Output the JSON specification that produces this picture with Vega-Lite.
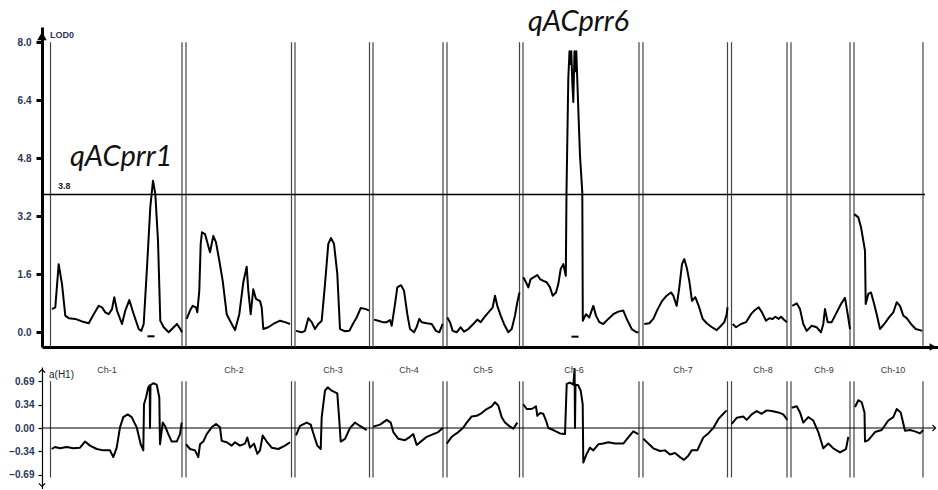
{
  "$schema": "https://vega.github.io/schema/vega-lite/v6.json",
  "padding": {"left": 8, "top": 7, "right": 0, "bottom": 0},
  "config": {"view": {"stroke": null}, "font": "Liberation Sans"},
  "spacing": 20,
  "bounds": "flush",
  "datasets": {
    "lod": [
      {"chr":1,"pos":52,"lod":0.64},{"chr":1,"pos":55.3,"lod":0.69},{"chr":1,"pos":58.7,"lod":1.88},{"chr":1,"pos":62,"lod":1.33},{"chr":1,"pos":65.3,"lod":0.46},{"chr":1,"pos":68.7,"lod":0.39},{"chr":1,"pos":75.3,"lod":0.37},{"chr":1,"pos":82,"lod":0.30},{"chr":1,"pos":88.7,"lod":0.25},{"chr":1,"pos":93.7,"lod":0.50},{"chr":1,"pos":98.7,"lod":0.73},{"chr":1,"pos":102,"lod":0.69},{"chr":1,"pos":105.3,"lod":0.55},{"chr":1,"pos":108.7,"lod":0.50},{"chr":1,"pos":112,"lod":0.64},{"chr":1,"pos":114.3,"lod":0.97},{"chr":1,"pos":117,"lod":0.60},{"chr":1,"pos":122,"lod":0.23},{"chr":1,"pos":125.3,"lod":0.60},{"chr":1,"pos":129.3,"lod":0.89},{"chr":1,"pos":133.7,"lod":0.50},{"chr":1,"pos":138.7,"lod":0.09},{"chr":1,"pos":141.3,"lod":0.04},{"chr":1,"pos":143.7,"lod":0.23},{"chr":1,"pos":147,"lod":1.79},{"chr":1,"pos":150.3,"lod":3.45},{"chr":1,"pos":153,"lod":4.18},{"chr":1,"pos":155.3,"lod":3.82},{"chr":1,"pos":158,"lod":2.53},{"chr":1,"pos":160.3,"lod":0.32},{"chr":1,"pos":163.7,"lod":0.14},{"chr":1,"pos":168.7,"lod":0.0},{"chr":1,"pos":173.7,"lod":0.14},{"chr":1,"pos":177,"lod":0.23},{"chr":1,"pos":180.3,"lod":0.09},{"chr":1,"pos":182,"lod":0.0},
      {"chr":2,"pos":186.7,"lod":0.37},{"chr":2,"pos":190,"lod":0.60},{"chr":2,"pos":192.7,"lod":0.73},{"chr":2,"pos":196,"lod":0.69},{"chr":2,"pos":197.3,"lod":0.55},{"chr":2,"pos":199.3,"lod":1.15},{"chr":2,"pos":200.7,"lod":2.44},{"chr":2,"pos":202,"lod":2.76},{"chr":2,"pos":205,"lod":2.71},{"chr":2,"pos":210,"lod":2.21},{"chr":2,"pos":213.3,"lod":2.66},{"chr":2,"pos":216,"lod":2.48},{"chr":2,"pos":219.3,"lod":1.98},{"chr":2,"pos":222.7,"lod":1.42},{"chr":2,"pos":226.7,"lod":0.50},{"chr":2,"pos":230,"lod":0.32},{"chr":2,"pos":235,"lod":0.06},{"chr":2,"pos":239.3,"lod":0.50},{"chr":2,"pos":243.3,"lod":1.38},{"chr":2,"pos":246.7,"lod":1.81},{"chr":2,"pos":248.3,"lod":1.15},{"chr":2,"pos":250.7,"lod":0.50},{"chr":2,"pos":253.3,"lod":1.19},{"chr":2,"pos":256,"lod":0.92},{"chr":2,"pos":260,"lod":0.86},{"chr":2,"pos":261.7,"lod":0.69},{"chr":2,"pos":263.3,"lod":0.09},{"chr":2,"pos":268.3,"lod":0.14},{"chr":2,"pos":273.3,"lod":0.23},{"chr":2,"pos":280,"lod":0.32},{"chr":2,"pos":285,"lod":0.28},{"chr":2,"pos":290,"lod":0.23},
      {"chr":3,"pos":296,"lod":0.04},{"chr":3,"pos":301.7,"lod":0.0},{"chr":3,"pos":305,"lod":0.04},{"chr":3,"pos":308.3,"lod":0.39},{"chr":3,"pos":311.7,"lod":0.28},{"chr":3,"pos":315,"lod":0.09},{"chr":3,"pos":318.3,"lod":0.23},{"chr":3,"pos":321.7,"lod":0.32},{"chr":3,"pos":325,"lod":1.33},{"chr":3,"pos":328.3,"lod":2.44},{"chr":3,"pos":331,"lod":2.60},{"chr":3,"pos":334,"lod":2.44},{"chr":3,"pos":337.3,"lod":1.61},{"chr":3,"pos":340,"lod":0.09},{"chr":3,"pos":345,"lod":0.03},{"chr":3,"pos":349.3,"lod":0.04},{"chr":3,"pos":353.3,"lod":0.25},{"chr":3,"pos":356.7,"lod":0.41},{"chr":3,"pos":360.7,"lod":0.67},{"chr":3,"pos":366,"lod":0.64},{"chr":3,"pos":369,"lod":0.60},
      {"chr":4,"pos":374,"lod":0.35},{"chr":4,"pos":378.3,"lod":0.32},{"chr":4,"pos":382.7,"lod":0.28},{"chr":4,"pos":386.7,"lod":0.28},{"chr":4,"pos":390,"lod":0.34},{"chr":4,"pos":391.7,"lod":0.18},{"chr":4,"pos":395,"lod":0.78},{"chr":4,"pos":397.3,"lod":1.24},{"chr":4,"pos":401,"lod":1.30},{"chr":4,"pos":404,"lod":1.15},{"chr":4,"pos":407.3,"lod":0.50},{"chr":4,"pos":410,"lod":0.09},{"chr":4,"pos":414,"lod":0.0},{"chr":4,"pos":416.7,"lod":0.15},{"chr":4,"pos":419.3,"lod":0.37},{"chr":4,"pos":421.7,"lod":0.28},{"chr":4,"pos":426.7,"lod":0.25},{"chr":4,"pos":431.7,"lod":0.23},{"chr":4,"pos":436,"lod":0.04},{"chr":4,"pos":439.3,"lod":0.0},{"chr":4,"pos":442.7,"lod":0.23},
      {"chr":5,"pos":447.3,"lod":0.41},{"chr":5,"pos":450,"lod":0.28},{"chr":5,"pos":452.7,"lod":0.04},{"chr":5,"pos":456.7,"lod":0.0},{"chr":5,"pos":460.7,"lod":0.14},{"chr":5,"pos":464,"lod":0.02},{"chr":5,"pos":468.3,"lod":0.09},{"chr":5,"pos":473.3,"lod":0.23},{"chr":5,"pos":477.3,"lod":0.35},{"chr":5,"pos":480.7,"lod":0.28},{"chr":5,"pos":485,"lod":0.44},{"chr":5,"pos":490,"lod":0.60},{"chr":5,"pos":492.7,"lod":0.69},{"chr":5,"pos":495,"lod":1.01},{"chr":5,"pos":497.3,"lod":0.73},{"chr":5,"pos":500.7,"lod":0.46},{"chr":5,"pos":504,"lod":0.23},{"chr":5,"pos":508.3,"lod":0.0},{"chr":5,"pos":511.7,"lod":0.09},{"chr":5,"pos":515,"lod":0.46},{"chr":5,"pos":517.3,"lod":0.83},{"chr":5,"pos":519.5,"lod":1.10},
      {"chr":6,"pos":523.3,"lod":1.52},{"chr":6,"pos":526,"lod":1.38},{"chr":6,"pos":528.3,"lod":1.24},{"chr":6,"pos":530.7,"lod":1.47},{"chr":6,"pos":534,"lod":1.52},{"chr":6,"pos":537.3,"lod":1.58},{"chr":6,"pos":540,"lod":1.47},{"chr":6,"pos":543.3,"lod":1.42},{"chr":6,"pos":546.7,"lod":1.38},{"chr":6,"pos":550,"lod":1.24},{"chr":6,"pos":552.7,"lod":1.01},{"chr":6,"pos":556,"lod":1.10},{"chr":6,"pos":558.3,"lod":1.33},{"chr":6,"pos":560.7,"lod":1.75},{"chr":6,"pos":563.3,"lod":1.88},{"chr":6,"pos":565.8,"lod":1.56},{"chr":6,"pos":566.5,"lod":3.86},{"chr":6,"pos":568.3,"lod":7.0},{"chr":6,"pos":569.5,"lod":7.75},{"chr":6,"pos":570.5,"lod":7.4},{"chr":6,"pos":571.3,"lod":7.75},{"chr":6,"pos":572.3,"lod":6.9},{"chr":6,"pos":573.3,"lod":6.35},{"chr":6,"pos":574.5,"lod":7.75},{"chr":6,"pos":575.5,"lod":7.2},{"chr":6,"pos":576.3,"lod":7.75},{"chr":6,"pos":577.5,"lod":6.8},{"chr":6,"pos":578.5,"lod":6.0},{"chr":6,"pos":580,"lod":4.87},{"chr":6,"pos":582.3,"lod":3.86},{"chr":6,"pos":582.8,"lod":0.32},{"chr":6,"pos":586,"lod":0.50},{"chr":6,"pos":589.3,"lod":0.41},{"chr":6,"pos":593.3,"lod":0.73},{"chr":6,"pos":596,"lod":0.46},{"chr":6,"pos":599.3,"lod":0.28},{"chr":6,"pos":603.3,"lod":0.23},{"chr":6,"pos":608.3,"lod":0.37},{"chr":6,"pos":613.3,"lod":0.50},{"chr":6,"pos":618.3,"lod":0.57},{"chr":6,"pos":623.3,"lod":0.60},{"chr":6,"pos":626.7,"lod":0.37},{"chr":6,"pos":631.7,"lod":0.09},{"chr":6,"pos":636.7,"lod":0.0},{"chr":6,"pos":638.5,"lod":0.0},
      {"chr":7,"pos":644.3,"lod":0.23},{"chr":7,"pos":649.3,"lod":0.25},{"chr":7,"pos":653.3,"lod":0.37},{"chr":7,"pos":657.7,"lod":0.64},{"chr":7,"pos":662,"lod":0.86},{"chr":7,"pos":666.7,"lod":1.01},{"chr":7,"pos":671,"lod":1.10},{"chr":7,"pos":673.3,"lod":1.01},{"chr":7,"pos":676.7,"lod":0.73},{"chr":7,"pos":679.3,"lod":1.24},{"chr":7,"pos":682,"lod":1.88},{"chr":7,"pos":684.3,"lod":2.02},{"chr":7,"pos":686.7,"lod":1.79},{"chr":7,"pos":689.3,"lod":1.42},{"chr":7,"pos":692,"lod":0.87},{"chr":7,"pos":695.3,"lod":0.97},{"chr":7,"pos":698.7,"lod":0.73},{"chr":7,"pos":702.7,"lod":0.37},{"chr":7,"pos":706.7,"lod":0.25},{"chr":7,"pos":712,"lod":0.14},{"chr":7,"pos":716.7,"lod":0.06},{"chr":7,"pos":721,"lod":0.18},{"chr":7,"pos":724.3,"lod":0.28},{"chr":7,"pos":726.7,"lod":0.50},{"chr":7,"pos":727.5,"lod":0.69},
      {"chr":8,"pos":732.7,"lod":0.23},{"chr":8,"pos":736,"lod":0.14},{"chr":8,"pos":741,"lod":0.23},{"chr":8,"pos":746,"lod":0.28},{"chr":8,"pos":751,"lod":0.50},{"chr":8,"pos":754.3,"lod":0.60},{"chr":8,"pos":758.7,"lod":0.69},{"chr":8,"pos":762,"lod":0.55},{"chr":8,"pos":766,"lod":0.32},{"chr":8,"pos":769.3,"lod":0.39},{"chr":8,"pos":772.7,"lod":0.37},{"chr":8,"pos":775.3,"lod":0.43},{"chr":8,"pos":778.7,"lod":0.37},{"chr":8,"pos":781,"lod":0.43},{"chr":8,"pos":784.3,"lod":0.34},{"chr":8,"pos":787,"lod":0.28},
      {"chr":9,"pos":792.3,"lod":0.73},{"chr":9,"pos":796.7,"lod":0.80},{"chr":9,"pos":800,"lod":0.64},{"chr":9,"pos":803.3,"lod":0.23},{"chr":9,"pos":806.7,"lod":0.04},{"chr":9,"pos":811.7,"lod":0.18},{"chr":9,"pos":816.7,"lod":0.14},{"chr":9,"pos":821,"lod":0.0},{"chr":9,"pos":823.3,"lod":0.23},{"chr":9,"pos":825,"lod":0.64},{"chr":9,"pos":827.7,"lod":0.28},{"chr":9,"pos":831.7,"lod":0.28},{"chr":9,"pos":836.7,"lod":0.55},{"chr":9,"pos":841,"lod":0.78},{"chr":9,"pos":845,"lod":0.95},{"chr":9,"pos":847.7,"lod":0.50},{"chr":9,"pos":850,"lod":0.09},
      {"chr":10,"pos":854.3,"lod":3.26},{"chr":10,"pos":858.3,"lod":3.17},{"chr":10,"pos":861,"lod":2.90},{"chr":10,"pos":863.3,"lod":2.53},{"chr":10,"pos":865,"lod":2.25},{"chr":10,"pos":865.7,"lod":0.78},{"chr":10,"pos":868.3,"lod":1.06},{"chr":10,"pos":871,"lod":1.10},{"chr":10,"pos":873.3,"lod":0.87},{"chr":10,"pos":876.7,"lod":0.50},{"chr":10,"pos":880,"lod":0.09},{"chr":10,"pos":884.3,"lod":0.23},{"chr":10,"pos":889,"lod":0.41},{"chr":10,"pos":893.3,"lod":0.55},{"chr":10,"pos":896.7,"lod":0.83},{"chr":10,"pos":900,"lod":0.73},{"chr":10,"pos":903.3,"lod":0.46},{"chr":10,"pos":906.7,"lod":0.39},{"chr":10,"pos":911,"lod":0.23},{"chr":10,"pos":915.7,"lod":0.09},{"chr":10,"pos":920,"lod":0.06},{"chr":10,"pos":922.3,"lod":0.04}
    ],
    "add": [
      {"chr":1,"pos":51.7,"a":-0.31},{"chr":1,"pos":55,"a":-0.28},{"chr":1,"pos":60,"a":-0.30},{"chr":1,"pos":66.7,"a":-0.28},{"chr":1,"pos":73.3,"a":-0.30},{"chr":1,"pos":80,"a":-0.29},{"chr":1,"pos":85,"a":-0.20},{"chr":1,"pos":90,"a":-0.26},{"chr":1,"pos":96.7,"a":-0.31},{"chr":1,"pos":103.3,"a":-0.33},{"chr":1,"pos":110,"a":-0.33},{"chr":1,"pos":113.3,"a":-0.43},{"chr":1,"pos":116.7,"a":-0.29},{"chr":1,"pos":120,"a":0.01},{"chr":1,"pos":123.3,"a":0.16},{"chr":1,"pos":127.7,"a":0.20},{"chr":1,"pos":131.7,"a":0.16},{"chr":1,"pos":136.7,"a":0.01},{"chr":1,"pos":140.7,"a":-0.24},{"chr":1,"pos":143.3,"a":-0.33},{"chr":1,"pos":144,"a":0.35},{"chr":1,"pos":146,"a":0.45},{"chr":1,"pos":148.3,"a":0.60},{"chr":1,"pos":149.7,"a":0.63},{"chr":1,"pos":150,"a":0.0},{"chr":1,"pos":150.5,"a":0.63},{"chr":1,"pos":153.3,"a":0.66},{"chr":1,"pos":156.7,"a":0.64},{"chr":1,"pos":159.3,"a":0.45},{"chr":1,"pos":160,"a":-0.24},{"chr":1,"pos":162.7,"a":0.08},{"chr":1,"pos":165,"a":0.03},{"chr":1,"pos":168.3,"a":-0.09},{"chr":1,"pos":171.7,"a":-0.20},{"chr":1,"pos":176.7,"a":-0.20},{"chr":1,"pos":180,"a":-0.09},{"chr":1,"pos":181.7,"a":0.08},
      {"chr":2,"pos":186,"a":-0.24},{"chr":2,"pos":190,"a":-0.31},{"chr":2,"pos":195,"a":-0.33},{"chr":2,"pos":198.3,"a":-0.43},{"chr":2,"pos":200,"a":-0.24},{"chr":2,"pos":203.3,"a":-0.20},{"chr":2,"pos":206.7,"a":-0.09},{"chr":2,"pos":211.7,"a":0.01},{"chr":2,"pos":216,"a":0.06},{"chr":2,"pos":220,"a":0.01},{"chr":2,"pos":221.7,"a":-0.19},{"chr":2,"pos":226.7,"a":-0.21},{"chr":2,"pos":231.7,"a":-0.26},{"chr":2,"pos":235,"a":-0.21},{"chr":2,"pos":240,"a":-0.26},{"chr":2,"pos":245,"a":-0.23},{"chr":2,"pos":247.3,"a":-0.14},{"chr":2,"pos":250,"a":-0.29},{"chr":2,"pos":254,"a":-0.23},{"chr":2,"pos":257.3,"a":-0.38},{"chr":2,"pos":260,"a":-0.33},{"chr":2,"pos":262.7,"a":-0.11},{"chr":2,"pos":266.7,"a":-0.20},{"chr":2,"pos":271.7,"a":-0.29},{"chr":2,"pos":278.3,"a":-0.31},{"chr":2,"pos":285,"a":-0.26},{"chr":2,"pos":290,"a":-0.21},
      {"chr":3,"pos":296,"a":-0.11},{"chr":3,"pos":300,"a":0.03},{"chr":3,"pos":306.7,"a":0.08},{"chr":3,"pos":310.7,"a":0.05},{"chr":3,"pos":314,"a":-0.11},{"chr":3,"pos":317.3,"a":-0.26},{"chr":3,"pos":320.7,"a":-0.31},{"chr":3,"pos":321.7,"a":0.16},{"chr":3,"pos":325,"a":0.55},{"chr":3,"pos":327.7,"a":0.60},{"chr":3,"pos":331.7,"a":0.55},{"chr":3,"pos":337.3,"a":0.51},{"chr":3,"pos":339.3,"a":0.11},{"chr":3,"pos":340.7,"a":-0.20},{"chr":3,"pos":345,"a":-0.16},{"chr":3,"pos":350,"a":0.0},{"chr":3,"pos":355,"a":0.08},{"chr":3,"pos":360,"a":0.03},{"chr":3,"pos":366.7,"a":-0.03},
      {"chr":4,"pos":373.3,"a":0.02},{"chr":4,"pos":380,"a":0.05},{"chr":4,"pos":386.7,"a":0.12},{"chr":4,"pos":390.7,"a":0.08},{"chr":4,"pos":393.3,"a":-0.06},{"chr":4,"pos":398.3,"a":-0.16},{"chr":4,"pos":405,"a":-0.18},{"chr":4,"pos":410,"a":-0.13},{"chr":4,"pos":413.3,"a":-0.09},{"chr":4,"pos":416.7,"a":-0.25},{"chr":4,"pos":421.7,"a":-0.19},{"chr":4,"pos":426.7,"a":-0.13},{"chr":4,"pos":433.3,"a":-0.09},{"chr":4,"pos":438.3,"a":-0.06},{"chr":4,"pos":442.7,"a":0.0},
      {"chr":5,"pos":446.7,"a":-0.23},{"chr":5,"pos":451.7,"a":-0.13},{"chr":5,"pos":458.3,"a":-0.06},{"chr":5,"pos":463,"a":0.0},{"chr":5,"pos":466.7,"a":0.08},{"chr":5,"pos":471.7,"a":0.17},{"chr":5,"pos":476.7,"a":0.18},{"chr":5,"pos":481.7,"a":0.22},{"chr":5,"pos":486.7,"a":0.28},{"chr":5,"pos":491.7,"a":0.32},{"chr":5,"pos":495,"a":0.38},{"chr":5,"pos":498.3,"a":0.33},{"chr":5,"pos":501.7,"a":0.16},{"chr":5,"pos":505,"a":0.08},{"chr":5,"pos":510,"a":0.02},{"chr":5,"pos":513.3,"a":-0.01},{"chr":5,"pos":517.3,"a":0.08},
      {"chr":6,"pos":523.3,"a":0.35},{"chr":6,"pos":526.7,"a":0.28},{"chr":6,"pos":531.7,"a":0.28},{"chr":6,"pos":536,"a":0.32},{"chr":6,"pos":537.3,"a":0.18},{"chr":6,"pos":540,"a":0.22},{"chr":6,"pos":543.3,"a":0.21},{"chr":6,"pos":546,"a":0.11},{"chr":6,"pos":548.3,"a":0.0},{"chr":6,"pos":553.3,"a":-0.03},{"chr":6,"pos":560,"a":-0.08},{"chr":6,"pos":565,"a":-0.09},{"chr":6,"pos":566.7,"a":0.65},{"chr":6,"pos":570,"a":0.67},{"chr":6,"pos":573.3,"a":0.64},{"chr":6,"pos":574.6,"a":0.87},{"chr":6,"pos":575,"a":0.0},{"chr":6,"pos":575.5,"a":0.64},{"chr":6,"pos":578.3,"a":0.63},{"chr":6,"pos":580.7,"a":0.55},{"chr":6,"pos":582.7,"a":0.35},{"chr":6,"pos":583.3,"a":-0.51},{"chr":6,"pos":586.7,"a":-0.38},{"chr":6,"pos":590,"a":-0.29},{"chr":6,"pos":593.3,"a":-0.33},{"chr":6,"pos":598.3,"a":-0.24},{"chr":6,"pos":603.3,"a":-0.23},{"chr":6,"pos":608.3,"a":-0.21},{"chr":6,"pos":615,"a":-0.23},{"chr":6,"pos":623.3,"a":-0.23},{"chr":6,"pos":628.3,"a":-0.14},{"chr":6,"pos":633.3,"a":-0.05},{"chr":6,"pos":638.3,"a":-0.09},
      {"chr":7,"pos":643.3,"a":-0.16},{"chr":7,"pos":648.3,"a":-0.23},{"chr":7,"pos":653.3,"a":-0.30},{"chr":7,"pos":660,"a":-0.34},{"chr":7,"pos":665,"a":-0.33},{"chr":7,"pos":670,"a":-0.39},{"chr":7,"pos":675,"a":-0.37},{"chr":7,"pos":680,"a":-0.43},{"chr":7,"pos":684,"a":-0.47},{"chr":7,"pos":688.3,"a":-0.41},{"chr":7,"pos":691.7,"a":-0.33},{"chr":7,"pos":697.3,"a":-0.33},{"chr":7,"pos":703.3,"a":-0.14},{"chr":7,"pos":708.3,"a":-0.08},{"chr":7,"pos":713.3,"a":0.0},{"chr":7,"pos":718.3,"a":0.13},{"chr":7,"pos":723.3,"a":0.21},{"chr":7,"pos":726.7,"a":0.26},
      {"chr":8,"pos":731.7,"a":0.06},{"chr":8,"pos":736.7,"a":0.15},{"chr":8,"pos":743.3,"a":0.17},{"chr":8,"pos":746.7,"a":0.12},{"chr":8,"pos":751.7,"a":0.20},{"chr":8,"pos":756.7,"a":0.25},{"chr":8,"pos":761.7,"a":0.21},{"chr":8,"pos":766.7,"a":0.26},{"chr":8,"pos":771.7,"a":0.25},{"chr":8,"pos":778.3,"a":0.23},{"chr":8,"pos":783.3,"a":0.20},{"chr":8,"pos":787.3,"a":0.12},
      {"chr":9,"pos":791.7,"a":0.30},{"chr":9,"pos":796.7,"a":0.32},{"chr":9,"pos":800,"a":0.23},{"chr":9,"pos":803.3,"a":0.08},{"chr":9,"pos":808.3,"a":0.16},{"chr":9,"pos":813.3,"a":0.11},{"chr":9,"pos":818.3,"a":-0.06},{"chr":9,"pos":823.3,"a":-0.30},{"chr":9,"pos":828.3,"a":-0.23},{"chr":9,"pos":833.3,"a":-0.30},{"chr":9,"pos":840,"a":-0.36},{"chr":9,"pos":846,"a":-0.31},{"chr":9,"pos":848.3,"a":-0.13},
      {"chr":10,"pos":855,"a":0.31},{"chr":10,"pos":858.3,"a":0.41},{"chr":10,"pos":861.7,"a":0.38},{"chr":10,"pos":864.5,"a":0.23},{"chr":10,"pos":865,"a":-0.20},{"chr":10,"pos":868.3,"a":-0.18},{"chr":10,"pos":875,"a":-0.06},{"chr":10,"pos":881.7,"a":-0.03},{"chr":10,"pos":888.3,"a":0.11},{"chr":10,"pos":893.3,"a":0.16},{"chr":10,"pos":896.7,"a":0.28},{"chr":10,"pos":900.7,"a":0.23},{"chr":10,"pos":905,"a":-0.04},{"chr":10,"pos":910,"a":-0.03},{"chr":10,"pos":915,"a":-0.05},{"chr":10,"pos":920,"a":-0.08},{"chr":10,"pos":923.3,"a":-0.03}
    ],
    "bounds": [
      {"pos":50.5},{"pos":182},{"pos":186},{"pos":291.5},{"pos":295},{"pos":369.5},{"pos":373},{"pos":443},{"pos":447},{"pos":519.5},{"pos":523},{"pos":639},{"pos":643},{"pos":727.5},{"pos":731.5},{"pos":787},{"pos":791},{"pos":850},{"pos":854},{"pos":923}
    ],
    "chrlabels": [
      {"label":"Ch-1","pos":107},{"label":"Ch-2","pos":234},{"label":"Ch-3","pos":333},{"label":"Ch-4","pos":409},{"label":"Ch-5","pos":483},{"label":"Ch-6","pos":574},{"label":"Ch-7","pos":683},{"label":"Ch-8","pos":763},{"label":"Ch-9","pos":824},{"label":"Ch-10","pos":893}
    ],
    "qtl": [
      {"label":"qACprr1","pos":70,"lod":4.6},{"label":"qACprr6","pos":528,"lod":8.32}
    ],
    "markers": [
      {"pos":151,"lod":-0.11},{"pos":575,"lod":-0.12}
    ],
    "one": [{}]
  },
  "vconcat": [
    {
      "width": 896,
      "height": 320,
      "layer": [
        {
          "data": {"name": "bounds"},
          "mark": {"type": "rule", "color": "#444444", "strokeWidth": 1.2},
          "encoding": {
            "x": {"field": "pos", "type": "quantitative", "scale": {"domain": [42, 938], "nice": false, "zero": false},
                  "axis": {"domainColor": "black", "domainWidth": 3, "ticks": false, "labels": false, "grid": false, "title": null}},
            "y": {"datum": 8.0, "type": "quantitative", "scale": {"domain": [-0.405, 8.42], "nice": false, "zero": false},
                  "axis": {"values": [0, 1.6, 3.2, 4.8, 6.4, 8.0], "tickCount": 20, "format": ".1f", "domainColor": "black", "domainWidth": 3,
                           "tickColor": "black", "tickWidth": 3, "tickSize": 6, "labelFont": "Liberation Sans", "labelFontSize": 10,
                           "labelFontWeight": "bold", "labelColor": "#2b3656", "labelPadding": 5, "labelOverlap": false, "grid": false, "title": null}},
            "y2": {"datum": -0.405}
          }
        },
        {
          "data": {"name": "one"},
          "mark": {"type": "rule", "color": "black", "strokeWidth": 1.5},
          "encoding": {"x": {"datum": 42, "type": "quantitative", "axis": {"title": null}}, "x2": {"datum": 925}, "y": {"datum": 3.8, "type": "quantitative", "axis": {"title": null}}}
        },
        {
          "data": {"name": "lod"},
          "mark": {"type": "line", "color": "black", "strokeWidth": 2, "strokeJoin": "round"},
          "encoding": {
            "x": {"field": "pos", "type": "quantitative", "axis": {"title": null}},
            "y": {"field": "lod", "type": "quantitative", "axis": {"title": null}},
            "detail": {"field": "chr"}
          }
        },
        {
          "data": {"name": "qtl"},
          "mark": {"type": "text", "font": "Lato", "fontStyle": "italic", "fontSize": 29, "align": "left", "baseline": "alphabetic", "color": "#111111"},
          "encoding": {
            "x": {"field": "pos", "type": "quantitative", "axis": {"title": null}},
            "y": {"field": "lod", "type": "quantitative", "axis": {"title": null}},
            "text": {"field": "label"}
          }
        },
        {
          "data": {"name": "one"},
          "mark": {"type": "text", "text": "LOD0", "font": "Liberation Sans", "fontSize": 9, "fontWeight": "bold", "align": "left", "baseline": "middle", "color": "#2b3656"},
          "encoding": {"x": {"datum": 50, "type": "quantitative", "axis": {"title": null}}, "y": {"datum": 8.2, "type": "quantitative", "axis": {"title": null}}}
        },
        {
          "data": {"name": "one"},
          "mark": {"type": "text", "text": "3.8", "font": "Liberation Sans", "fontSize": 9, "fontWeight": "bold", "align": "left", "baseline": "middle", "color": "#222222"},
          "encoding": {"x": {"datum": 58, "type": "quantitative", "axis": {"title": null}}, "y": {"datum": 4.04, "type": "quantitative", "axis": {"title": null}}}
        },
        {
          "data": {"name": "markers"},
          "mark": {"type": "point", "shape": "M -1 0 L 1 0", "filled": false, "color": "black", "strokeWidth": 2, "size": 50, "opacity": 1},
          "encoding": {
            "x": {"field": "pos", "type": "quantitative", "axis": {"title": null}},
            "y": {"field": "lod", "type": "quantitative", "axis": {"title": null}}
          }
        },
        {
          "data": {"name": "one"},
          "mark": {"type": "point", "shape": "triangle-up", "filled": true, "color": "black", "size": 90, "opacity": 1},
          "encoding": {"x": {"datum": 42, "type": "quantitative", "axis": {"title": null}}, "y": {"datum": 8.17, "type": "quantitative", "axis": {"title": null}}}
        },
        {
          "data": {"name": "one"},
          "mark": {"type": "point", "shape": "triangle-right", "filled": true, "color": "black", "size": 60, "opacity": 1},
          "encoding": {"x": {"datum": 933, "type": "quantitative", "axis": {"title": null}}, "y": {"datum": -0.405, "type": "quantitative", "axis": {"title": null}}}
        }
      ]
    },
    {
      "width": 896,
      "height": 122,
      "layer": [
        {
          "data": {"name": "bounds"},
          "mark": {"type": "rule", "color": "#444444", "strokeWidth": 1.2},
          "encoding": {
            "x": {"field": "pos", "type": "quantitative", "scale": {"domain": [42, 938], "nice": false, "zero": false}, "axis": null},
            "y": {"datum": 0.69, "type": "quantitative", "scale": {"domain": [-0.9, 0.9], "nice": false, "zero": false},
                  "axis": {"values": [0.69, 0.34, 0, -0.34, -0.69], "tickCount": 20, "format": ".2f", "domainColor": "black", "domainWidth": 1.2,
                           "tickColor": "black", "tickWidth": 1.2, "tickSize": 4, "labelFont": "Liberation Sans", "labelFontSize": 10,
                           "labelFontWeight": "bold", "labelColor": "#2b3656", "labelPadding": 4, "labelOverlap": false, "grid": false, "title": null}},
            "y2": {"datum": -0.73}
          }
        },
        {
          "data": {"name": "one"},
          "mark": {"type": "rule", "color": "black", "strokeWidth": 1.2},
          "encoding": {"x": {"datum": 42, "type": "quantitative", "axis": null}, "x2": {"datum": 935}, "y": {"datum": 0, "type": "quantitative", "axis": {"title": null}}}
        },
        {
          "data": {"name": "add"},
          "mark": {"type": "line", "color": "black", "strokeWidth": 2, "strokeJoin": "round"},
          "encoding": {
            "x": {"field": "pos", "type": "quantitative", "axis": null},
            "y": {"field": "a", "type": "quantitative", "axis": {"title": null}},
            "detail": {"field": "chr"}
          }
        },
        {
          "data": {"name": "chrlabels"},
          "mark": {"type": "text", "font": "Liberation Sans", "fontSize": 9, "align": "center", "baseline": "middle", "color": "#3a3a3a"},
          "encoding": {
            "x": {"field": "pos", "type": "quantitative", "axis": null},
            "y": {"datum": 0.85, "type": "quantitative", "axis": {"title": null}},
            "text": {"field": "label"}
          }
        },
        {
          "data": {"name": "one"},
          "mark": {"type": "text", "text": "a(H1)", "font": "Liberation Sans", "fontSize": 10, "align": "left", "baseline": "middle", "color": "#222222"},
          "encoding": {"x": {"datum": 49, "type": "quantitative", "axis": null}, "y": {"datum": 0.78, "type": "quantitative", "axis": {"title": null}}}
        },
        {
          "data": {"name": "one"},
          "mark": {"type": "point", "shape": "M -1 0.5 L 0 -0.5 L 1 0.5", "filled": false, "color": "black", "strokeWidth": 1.2, "size": 40, "opacity": 1},
          "encoding": {"x": {"datum": 42, "type": "quantitative", "axis": null}, "y": {"datum": 0.84, "type": "quantitative", "axis": {"title": null}}}
        },
        {
          "data": {"name": "one"},
          "mark": {"type": "point", "shape": "M -1 -0.5 L 0 0.5 L 1 -0.5", "filled": false, "color": "black", "strokeWidth": 1.2, "size": 40, "opacity": 1},
          "encoding": {"x": {"datum": 42, "type": "quantitative", "axis": null}, "y": {"datum": -0.84, "type": "quantitative", "axis": {"title": null}}}
        },
        {
          "data": {"name": "one"},
          "mark": {"type": "point", "shape": "M -0.5 -1 L 0.5 0 L -0.5 1", "filled": false, "color": "black", "strokeWidth": 1.2, "size": 40, "opacity": 1},
          "encoding": {"x": {"datum": 934, "type": "quantitative", "axis": null}, "y": {"datum": 0, "type": "quantitative", "axis": {"title": null}}}
        }
      ]
    }
  ]
}
